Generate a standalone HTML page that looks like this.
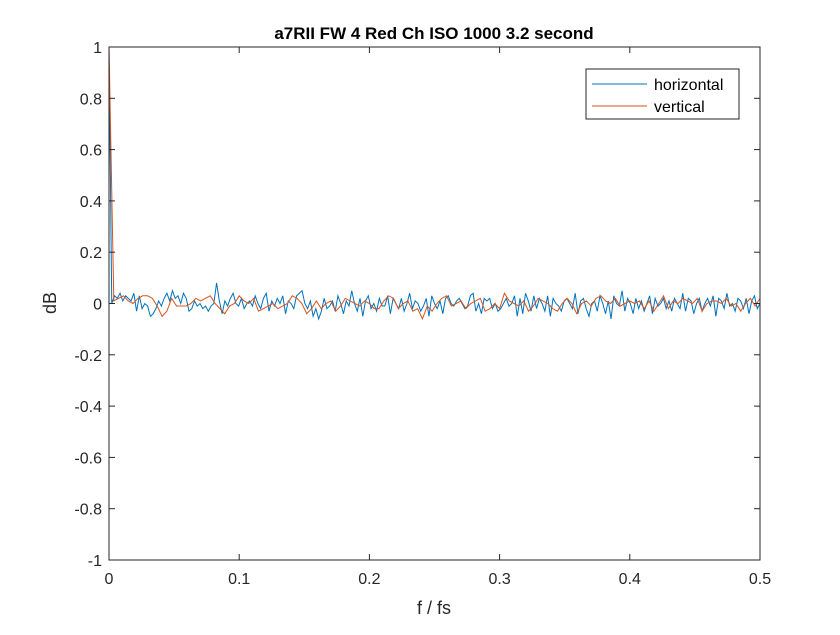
<!DOCTYPE html>
<html><head><meta charset="utf-8"><style>
body{margin:0;background:#fff;}
svg text{font-family:"Liberation Sans",Arial,sans-serif;}
</style></head><body>
<svg id="chart" width="840" height="630" xmlns="http://www.w3.org/2000/svg">
<rect x="0" y="0" width="840" height="630" fill="#fff"/>
<rect x="109" y="47" width="651" height="513" fill="#fff"/>
<g id="grid"></g>
<g id="series"></g>
<rect x="109" y="47" width="651" height="513" fill="none" stroke="#262626" stroke-width="1"/>
<g id="ticks"></g>
<text x="434" y="39" text-anchor="middle" font-size="17" font-weight="bold" fill="#000">a7RII FW 4 Red Ch ISO 1000 3.2 second</text>
<text x="434" y="614" text-anchor="middle" font-size="18" fill="#262626">f / fs</text>
<text transform="translate(56,303) rotate(-90)" text-anchor="middle" font-size="18" fill="#262626">dB</text>
<g>
<rect x="586" y="69" width="153" height="50" fill="#fff" stroke="#262626" stroke-width="1"/>
<line x1="592" y1="84" x2="647" y2="84" stroke="#0072BD" stroke-width="1"/>
<text x="654" y="90" font-size="16" fill="#000">horizontal</text>
<line x1="592" y1="106" x2="647" y2="106" stroke="#D95319" stroke-width="1"/>
<text x="654" y="112" font-size="16" fill="#000">vertical</text>
</g>
</svg>
<script>
const xTicks=[0,0.1,0.2,0.3,0.4,0.5];
const xTickLabels=["0","0.1","0.2","0.3","0.4","0.5"];
const yTicks=[-1,-0.8,-0.6,-0.4,-0.2,0,0.2,0.4,0.6,0.8,1];
const yTickLabels=["-1","-0.8","-0.6","-0.4","-0.2","0","0.2","0.4","0.6","0.8","1"];
const horizontal=[1,0.0,0.03,0.02,0.04,0.01,0.03,0.02,0.01,0.04,-0.03,0.03,-0.02,0.0,-0.01,-0.05,-0.04,-0.02,0.01,-0.01,0.02,0.04,0.01,0.05,0.02,0.03,0.0,0.04,0.02,-0.03,-0.02,0.01,-0.01,0.0,-0.02,-0.01,-0.03,-0.01,0.0,0.08,0.01,-0.04,0.01,-0.01,0.02,0.04,0.0,-0.01,0.02,-0.02,0.0,0.01,-0.01,0.03,0.0,-0.02,0.02,0.04,-0.03,0.01,-0.01,0.02,0.0,0.03,-0.04,0.01,0.0,-0.02,0.03,0.04,0.05,0.0,-0.02,0.01,-0.05,-0.02,-0.06,-0.03,0.02,-0.02,-0.01,0.01,-0.03,0.03,0.0,-0.04,0.01,-0.01,0.05,0.0,-0.03,0.02,-0.05,0.01,0.03,-0.02,0.0,-0.03,0.02,-0.01,-0.01,0.03,-0.04,0.02,0.0,-0.02,0.02,-0.03,0.0,0.04,-0.02,0.01,0.0,-0.03,-0.01,0.02,-0.05,0.03,0.0,-0.02,0.01,-0.04,0.02,0.03,0.0,-0.01,0.01,0.02,0.0,-0.02,-0.01,0.03,0.04,-0.03,0.0,-0.04,0.02,0.01,0.02,-0.02,0.0,-0.03,-0.02,0.0,0.02,-0.01,0.0,0.03,-0.05,0.02,-0.04,0.04,0.01,-0.03,0.03,-0.02,0.02,0.0,-0.03,0.03,-0.05,0.02,0.0,-0.01,-0.03,0.01,0.02,0.0,-0.02,0.04,-0.04,0.01,0.02,-0.02,-0.05,0.0,0.01,-0.03,0.03,0.0,-0.04,0.01,-0.06,0.03,0.0,-0.01,0.05,-0.03,0.02,0.0,-0.04,0.02,-0.02,0.01,-0.03,0.0,0.03,-0.04,0.02,-0.01,0.0,0.02,-0.02,0.01,-0.03,0.02,0.0,-0.02,0.04,-0.03,0.02,0.01,-0.04,0.0,0.02,-0.03,0.0,0.02,-0.01,0.03,-0.05,0.02,0.01,-0.02,0.04,-0.01,0.0,-0.03,0.02,0.01,-0.02,0.02,-0.04,0.01,0.03,-0.02,0.0];
const vertical=[1,0.01,0.02,0.03,0.01,0.0,0.02,0.03,0.03,0.02,-0.01,-0.05,-0.03,0.02,-0.01,-0.01,-0.01,0.0,0.02,0.01,0.02,0.03,0.0,-0.02,-0.04,-0.01,0.0,0.03,0.01,0.0,0.02,-0.03,-0.02,-0.01,0.0,-0.02,-0.01,0.0,0.03,0.02,0.0,-0.04,-0.02,0.01,-0.02,0.0,0.01,-0.03,-0.01,0.02,0.01,0.0,-0.01,0.01,0.0,-0.02,-0.02,0.01,0.03,0.02,-0.02,0.0,0.01,-0.03,-0.02,-0.06,-0.01,-0.03,0.0,0.02,0.03,-0.01,0.0,0.01,-0.02,0.0,0.01,0.02,-0.03,-0.02,0.0,-0.02,0.04,0.01,0.0,-0.01,0.01,-0.03,-0.01,0.02,0.01,0.0,-0.02,-0.03,0.0,0.02,0.0,-0.04,0.0,0.01,-0.01,0.02,0.03,0.01,0.0,0.02,-0.01,0.0,0.01,0.0,0.01,-0.02,0.01,-0.03,0.0,0.03,-0.02,0.01,0.0,0.02,0.01,0.0,0.02,-0.03,0.0,0.01,0.01,0.0,0.02,-0.01,0.0,-0.03,0.0,0.02,-0.01,0.02];
const X0=109,X1=760,Y0=560,Y1=47;
const xs=v=>X0+(v-0)/(0.5-0)*(X1-X0);
const ys=v=>Y0-(v+1)/2*(Y0-Y1);
const NS="http://www.w3.org/2000/svg";
const tk=document.getElementById('ticks');
xTicks.forEach((v,i)=>{
 const x=xs(v);
 const l1=document.createElementNS(NS,'line');
 
 
 l1.setAttribute('x1',x);l1.setAttribute('x2',x);l1.setAttribute('y1',Y0);l1.setAttribute('y2',Y0-6);l1.setAttribute('stroke','#262626');tk.appendChild(l1);
 const l2=document.createElementNS(NS,'line');
 
 
 l2.setAttribute('x1',x);l2.setAttribute('x2',x);l2.setAttribute('y1',Y1);l2.setAttribute('y2',Y1+6);l2.setAttribute('stroke','#262626');tk.appendChild(l2);
 const t=document.createElementNS(NS,'text');
 
 
 t.setAttribute('x',x);t.setAttribute('y',Y0+24);t.setAttribute('text-anchor','middle');t.setAttribute('font-size','16');t.setAttribute('fill','#262626');
 t.textContent=xTickLabels[i];tk.appendChild(t);
});
yTicks.forEach((v,i)=>{
 const y=ys(v);
 const l1=document.createElementNS(NS,'line');
 
 
 l1.setAttribute('x1',X0);l1.setAttribute('x2',X0+6);l1.setAttribute('y1',y);l1.setAttribute('y2',y);l1.setAttribute('stroke','#262626');tk.appendChild(l1);
 const l2=document.createElementNS(NS,'line');
 
 
 l2.setAttribute('x1',X1);l2.setAttribute('x2',X1-6);l2.setAttribute('y1',y);l2.setAttribute('y2',y);l2.setAttribute('stroke','#262626');tk.appendChild(l2);
 const t=document.createElementNS(NS,'text');
 
 
 t.setAttribute('x',X0-7);t.setAttribute('y',y+6);t.setAttribute('text-anchor','end');t.setAttribute('font-size','16');t.setAttribute('fill','#262626');
 t.textContent=yTickLabels[i];tk.appendChild(t);
});
const sg=document.getElementById('series');
function draw(arr,color,name){
 const n=arr.length;
 const pts=arr.map((v,i)=>xs(i/(n-1)*0.5).toFixed(2)+','+ys(v).toFixed(2)).join(' ');
 const p=document.createElementNS(NS,'polyline');
 
 
 p.setAttribute('points',pts);p.setAttribute('fill','none');p.setAttribute('stroke',color);p.setAttribute('stroke-width','1');
 sg.appendChild(p);
}
draw(horizontal,'#0072BD','series-horizontal');
draw(vertical,'#D95319','series-vertical');
</script>
</body></html>
